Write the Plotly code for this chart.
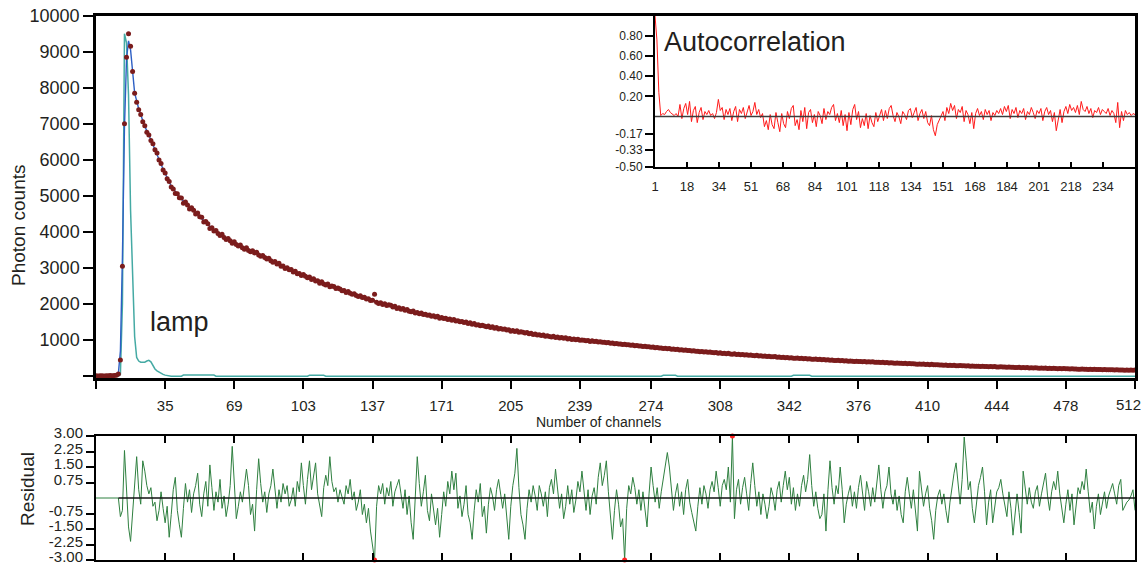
import plotly.graph_objects as go

W, H = 1146, 565

# ---------------- data ----------------
# photon counts per channel (channels 1..512)
counts = [
    12, 8, 15, 10, 6, 14, 9, 18, 11, 20,
    25, 60, 450, 3050, 7000, 8850, 9500, 9150, 8450, 7850,
    7600, 7390, 7260, 7060, 6950, 6770, 6690, 6540, 6450, 6280,
    6190, 6000, 5900, 5720, 5640, 5480, 5400, 5250, 5190, 5070,
    5060, 4950, 4940, 4800, 4830, 4750, 4640, 4670, 4600, 4500,
    4530, 4420, 4410, 4280, 4290, 4230, 4100, 4120, 4030, 4040,
    3960, 3900, 3940, 3850, 3790, 3820, 3760, 3690, 3730, 3650,
    3610, 3640, 3560, 3520, 3560, 3490, 3450, 3480, 3420, 3440,
    3360, 3330, 3350, 3290, 3250, 3270, 3200, 3160, 3180, 3110,
    3130, 3050, 3060, 2990, 3010, 2950, 2960, 2890, 2910, 2840,
    2850, 2790, 2820, 2770, 2730, 2750, 2680, 2700, 2640, 2650,
    2580, 2620, 2560, 2530, 2560, 2480, 2500, 2490, 2430, 2450,
    2420, 2370, 2380, 2320, 2350, 2300, 2270, 2290, 2240, 2210,
    2230, 2180, 2190, 2140, 2150, 2100, 2110, 2270, 2050, 2020,
    2040, 1990, 2010, 1960, 1980, 1970, 1920, 1940, 1880, 1900,
    1860, 1880, 1830, 1850, 1800, 1790, 1810, 1750, 1770, 1730,
    1750, 1710, 1720, 1690, 1700, 1660, 1680, 1640, 1660, 1610,
    1630, 1600, 1610, 1570, 1590, 1550, 1570, 1530, 1540, 1510,
    1520, 1490, 1500, 1460, 1480, 1440, 1460, 1420, 1430, 1400,
    1410, 1390, 1370, 1390, 1350, 1370, 1330, 1350, 1310, 1320,
    1300, 1310, 1280, 1290, 1250, 1270, 1240, 1260, 1220, 1230,
    1220, 1200, 1210, 1180, 1190, 1160, 1170, 1140, 1150, 1130,
    1140, 1110, 1120, 1100, 1090, 1110, 1070, 1090, 1060, 1070,
    1050, 1065, 1035, 1045, 1020, 1035, 1010, 1025, 995, 1005,
    1000, 980, 990, 965, 980, 960, 970, 950, 955, 940,
    945, 925, 935, 915, 920, 900, 910, 890, 895, 880,
    885, 870, 875, 855, 865, 845, 850, 835, 840, 825,
    830, 815, 820, 800, 810, 790, 795, 780, 785, 770,
    775, 760, 765, 750, 755, 740, 745, 730, 735, 720,
    725, 710, 715, 700, 705, 690, 695, 680, 685, 670,
    680, 662, 668, 655, 650, 660, 640, 648, 632, 640,
    625, 635, 618, 612, 622, 605, 612, 598, 604, 590,
    598, 582, 588, 574, 570, 578, 560, 568, 552, 558,
    545, 555, 540, 536, 545, 528, 535, 520, 528, 515,
    522, 508, 514, 500, 497, 505, 490, 497, 482, 490,
    478, 486, 470, 468, 476, 462, 468, 455, 462, 450,
    457, 444, 450, 438, 436, 442, 428, 435, 422, 430,
    418, 425, 412, 410, 418, 405, 411, 400, 407, 396,
    402, 392, 398, 387, 384, 390, 379, 385, 372, 378,
    368, 375, 364, 362, 368, 356, 362, 350, 356, 346,
    352, 342, 347, 337, 334, 340, 330, 336, 324, 330,
    321, 328, 316, 315, 320, 309, 314, 304, 309, 300,
    306, 297, 301, 293, 290, 296, 287, 292, 281, 287,
    279, 286, 275, 274, 279, 270, 275, 266, 271, 264,
    270, 262, 266, 258, 256, 261, 253, 258, 248, 253,
    245, 251, 241, 240, 245, 237, 241, 233, 238, 230,
    236, 228, 232, 225, 223, 228, 220, 225, 216, 221,
    214, 220, 211, 210, 214, 207, 211, 204, 208, 201,
    207, 200, 203, 196, 195, 199, 192, 196, 188, 193,
    188, 193, 185, 184, 188, 181, 185, 178, 182, 176,
    182, 175, 179, 172, 171, 175, 168, 172, 165, 170,
    166, 169,
]
channels = list(range(1, len(counts) + 1))

# fitted decay curve
fit_channels = [1, 11, 12, 13, 14, 15, 16, 17, 18, 19, 20, 22, 25, 28, 31, 34, 38,
                42, 46, 50, 55, 60, 70, 80, 90, 100, 120, 140, 160, 180, 200, 220,
                240, 260, 280, 300, 330, 360, 390, 420, 450, 480, 512]
fit_values = [0, 10, 80, 700, 3300, 6900, 8800, 9300, 9050, 8450, 7860, 7420, 6930,
              6560, 6160, 5740, 5270, 4980, 4740, 4540, 4260, 4010, 3660, 3410, 3120,
              2860, 2430, 2040, 1745, 1520, 1315, 1135, 1000, 885, 775, 675, 555, 455,
              375, 305, 250, 205, 166]

# instrument response (lamp)
lamp_channels = [1, 12, 13, 14, 15, 16, 17, 18, 19, 20, 21, 22, 23, 24, 25, 26, 27,
                 28, 29, 30, 31, 32, 33, 34, 35, 36, 37, 38, 43, 44, 59, 60, 105, 106,
                 113, 114, 279, 280, 286, 287, 343, 344, 352, 353, 512]
lamp_values = [0, 0, 50, 2000, 9500, 9250, 7800, 4600, 2850, 1100, 520, 420, 390, 380,
               390, 420, 440, 400, 300, 200, 150, 110, 80, 50, 30, 15, 5, 0, 0, 30, 30,
               0, 0, 25, 25, 0, 0, 25, 25, 0, 0, 25, 25, 0, 0]

# weighted residuals per channel (channels 1..512)
residuals = [
    0, 0, 0, 0, 0, 0, 0, 0, 0, 0,
    0, 0.0, -0.9, -0.6, 2.3, 0.6, -1.4, -2.1, -0.7, 0.5,
    2.0, 0.4, -0.3, 1.8, 1.3, 0.6, 0.2, 0.5, -0.4, -0.2,
    -1.1, -0.6, 0.3, -0.5, -1.2, -0.4, -1.9, -0.8, 0.4, 1.0,
    -0.6, -1.3, -1.9, -0.5, 0.7, -0.2, 0.4, -0.7, 0.2, 0.6,
    1.2, -0.3, -0.9, 0.2, 0.8, -0.4, 1.6, 0.5, -0.6, 0.3,
    -0.2, 0.9, -0.5, 0.1, -0.9, -0.3, 0.6, 2.5, 0.8, -1.0,
    -0.4, 0.3, -0.2, 0.5, 1.4, 0.6, -0.8, -0.3, -1.6, 0.4,
    1.9, 0.7, -0.2, 0.3, -0.7, 0.2, 0.6, 1.4, 0.3, -0.5,
    0.4, -0.2, 0.7, 0.2, 0.6, -0.4, -0.1, 0.5, -0.4, 0.8,
    0.3, 1.7, 0.6, -0.3, 0.9, 1.8, 0.4, 1.0, 1.7, 0.2,
    -0.4, -0.9, 0.5, 1.1, 0.6, 2.0, 0.8, 0.3, 0.5, -0.2,
    0.4, 0.1, -0.3, 0.6, 0.2, 0.9, -0.1, 0.3, -0.6, -0.2,
    0.4, -0.8, -0.3, -1.2, -0.5, -1.6, -2.2, -3.0, -0.4, 0.6,
    0.2, 0.7, -0.3, 0.5, 0.1, 0.8, -0.4, 0.3, 0.6, 0.9,
    0.2, -0.5, 0.4, -0.8, 0.1, -1.2, -2.0, -0.3, 2.0, 0.7,
    -0.4, 0.3, 1.1, -0.6, -1.1, 0.2, -0.7, -1.3, -0.5, -1.9,
    -0.8, 0.3, -0.4, 0.8, 0.2, 1.3, 0.4, 1.2, -0.5, 0.1,
    -0.9, -0.3, 0.6, -0.8, -1.2, -2.0, -0.6, 0.4, -0.2, 0.7,
    -0.9, -0.4, -1.7, -0.3, 0.5, 0.1, -0.6, 0.4, 0.9, 0.3,
    -0.5, 0.2, -1.1, -2.0, -0.4, 0.6, 1.2, 2.4, 0.5, -0.8,
    -1.3, -2.0, -0.5, 0.4, -0.2, 0.6, 0.1, -0.6, 0.6, 0.2,
    -0.4, 0.3, -0.9, 0.5, 0.9, 0.2, 1.4, 0.3, -0.5, 0.2,
    -1.0, -0.4, 0.6, -0.3, 0.4, -0.7, -0.1, 0.8, 0.3, 1.3,
    0.2, -0.6, 0.4, -0.8, 0.1, 0.5, -0.3, 1.0, 1.7, 0.6,
    1.1, 1.8, 0.3, -0.9, -2.0, -0.6, 0.4, -0.3, -1.4, -1.0,
    -3.0, -0.5, 0.6, 0.2, 1.0, 0.5, -0.3, 0.4, -0.6, 0.3,
    -0.7, -1.4, 0.2, 1.5, 0.6, -0.2, 0.5, -0.5, 0.3, 0.9,
    1.5, 2.2, 1.5, 0.4, -0.6, 0.2, 0.7, -0.4, 0.3, -0.8,
    0.4, 0.9, -0.2, -0.7, -1.1, -1.6, -0.4, 0.5, -0.3, 0.6,
    0.2, -0.5, 0.4, 0.8, 0.3, 1.3, 0.5, -0.4, 0.6, 0.9,
    0.4, 1.5, -0.2, 3.0, -1.0, 0.4, 0.9, -0.3, 0.5, 1.0,
    0.2, -0.6, 0.7, 1.7, 0.6, -0.4, 0.3, -0.8, 0.2, -0.3,
    -1.0, -0.4, 0.5, 0.1, -0.6, 0.4, 0.8, -0.2, 0.6, 1.3,
    0.4, 1.0, -0.3, 0.5, -0.6, 0.2, -0.4, 0.6, 1.1, 0.3,
    0.9, 2.1, 0.6, -0.4, 0.3, -0.5, -1.0, -0.8, 0.2, -1.6,
    0.4, 1.8, 0.5, -0.3, 0.6, 0.2, 1.5, 0.4, -1.2, -0.3,
    0.2, 0.6, -0.4, 0.3, -0.5, 0.5, 1.1, 0.2, -0.6, 0.8,
    0.3, -0.4, 0.5, -0.2, 0.7, 1.6, 0.4, -0.5, 0.3, 0.6,
    1.5, 0.2, -0.3, 0.4, -0.6, 0.1, -0.8, -1.2, 0.3, 1.0,
    0.2, -0.5, 0.4, -0.7, -1.6, 1.3, 0.3, -0.4, 0.2, 0.6,
    -0.5, -1.1, -2.0, -0.6, 0.1, 0.4, -0.3, 0.2, -0.6, -1.2,
    -0.2, 0.6, 1.2, 1.7, 0.5, -0.3, 0.9, 2.95, 1.8, 0.4,
    0.8, -0.5, -1.2, -0.4, 0.6, 1.0, 1.5, 0.3, -1.3, -0.2,
    0.4, -1.2, -0.3, 0.3, 0.5, 0.9, 0.2, -0.4, -0.9, 0.3,
    -0.5, -1.8, -0.6, 0.2, -0.7, -1.7, 1.3, 0.4, -0.3, 0.5,
    -0.2, -0.5, 0.3, 0.6, -0.4, 0.2, 0.7, 1.2, 0.1, -0.6,
    0.3, 0.8, 0.4, 1.3, 0.2, -0.5, -1.2, -0.3, 0.4, -0.6,
    0.2, -1.3, -0.4, 0.5, 0.2, 0.8, 0.4, 1.4, 0.3, -0.7,
    -0.2, -1.5, -0.4, 0.2, -0.8, -0.3, 0.3, -0.5, 0.1, 0.4,
    0.7, 0.2, -0.3, 0.6, 0.9, -0.6, -0.4, -0.2, -0.1, 0.1,
    0.4, -0.6,
]
res_channels = list(range(1, len(residuals) + 1))

# autocorrelation of the residuals (lags 1..251)
autocorr = [
    1.00, 0.76, 0.24, 0.01, 0.03, 0.02, 0.05, 0.07, 0.04, 0.02,
    0.01, 0.03, 0.00, 0.12, -0.02, 0.08, 0.13, 0.02, 0.15, -0.05,
    0.06, 0.10, -0.06, 0.04, 0.09, -0.03, 0.05, 0.02, 0.06, 0.01,
    0.03, -0.02, 0.04, 0.17, 0.06, 0.09, -0.03, 0.07, 0.02, 0.08,
    -0.04, 0.05, 0.10, -0.05, 0.07, 0.03, 0.09, -0.02, 0.06, 0.11,
    0.01, 0.05, 0.14, 0.02, 0.07, -0.01, 0.03, -0.10, -0.04, -0.13,
    0.02, -0.08, -0.12, 0.04, -0.06, -0.15, 0.03, -0.07, -0.11, 0.05,
    -0.02, 0.08, 0.11, -0.09, -0.03, -0.13, 0.06, -0.05, 0.09, -0.12,
    0.04, 0.07, -0.06, 0.02, -0.10, 0.05, 0.01, -0.07, 0.08, -0.03,
    0.05, 0.02, 0.09, 0.12, -0.04, 0.03, -0.06, 0.06, -0.09, 0.02,
    -0.14, 0.04, -0.08, 0.07, 0.12, -0.03, 0.05, -0.11, -0.02, -0.09,
    0.03, -0.12, 0.01, -0.06, -0.10, 0.04, -0.05, 0.02, 0.07, -0.04,
    0.06, -0.02, 0.08, 0.11, 0.01, -0.05, 0.04, 0.00, -0.07, 0.05,
    0.02, -0.03, 0.06, 0.08, -0.01, 0.04, 0.09, -0.04, 0.03, 0.07,
    -0.02, 0.05, -0.06, -0.09, 0.01, -0.13, -0.19, -0.08, -0.03, 0.02,
    0.05, -0.04, 0.09, 0.03, 0.13, 0.06, 0.11, -0.02, 0.07, 0.04,
    0.10, -0.05, 0.06, 0.02, -0.07, 0.04, -0.12, 0.03, 0.08, 0.01,
    0.05, -0.03, 0.07, 0.02, 0.06, -0.04, 0.04, 0.01, 0.06, 0.03,
    0.08, 0.02, 0.10, 0.05, 0.11, -0.02, 0.07, 0.03, 0.09, -0.01,
    0.06, 0.03, 0.08, -0.03, 0.05, 0.02, 0.09, 0.04, -0.02, 0.06,
    0.03, 0.08, -0.04, 0.05, 0.09, 0.02, 0.06, -0.05, 0.04, -0.14,
    -0.02, 0.07, -0.06, 0.05, 0.10, 0.03, 0.12, 0.06, 0.09, 0.04,
    0.11, 0.02, 0.15, 0.07, 0.05, 0.10, 0.03, 0.08, -0.01, 0.06,
    0.04, 0.09, 0.02, 0.07, 0.05, 0.03, 0.08, 0.01, 0.06, 0.03,
    -0.06, 0.14, -0.11, 0.05, -0.04, 0.06, 0.02, 0.04, 0.01, 0.03,
    0.02,
]
lags = list(range(1, len(autocorr) + 1))

main_xticks = [1, 35, 69, 103, 137, 171, 205, 239, 274, 308, 342, 376, 410, 444, 478, 512]
# first and last tick carry no axis label; the "512" label is placed separately so it
# stays inside the page at the right edge
main_xlabels = [""] + [str(v) for v in main_xticks[1:-1]] + [""]
main_yticks = [0, 1000, 2000, 3000, 4000, 5000, 6000, 7000, 8000, 9000, 10000]
main_ylabels = [""] + [str(v) for v in main_yticks[1:]]
res_yticks = [3.0, 2.25, 1.5, 0.75, -0.75, -1.5, -2.25, -3.0]
res_ylabels = ["3.00", "2.25", "1.50", "0.75", "-0.75", "-1.50", "-2.25", "-3.00"]
ac_yticks = [0.8, 0.6, 0.4, 0.2, -0.17, -0.33, -0.5]
ac_ylabels = ["0.80", "0.60", "0.40", "0.20", "-0.17", "-0.33", "-0.50"]
ac_xlabels = ["1", "18", "34", "51", "68", "84", "101", "118", "134", "151",
              "168", "184", "201", "218", "234"]
ac_xticks = [1 + k * 250 / 15 for k in range(len(ac_xlabels))]

# ---------------- layout helpers ----------------
def fx(x):
    return x / W


def fy(y):
    return 1 - y / H


FONT = "Liberation Sans, Arial, sans-serif"
INK = "#231f20"

fig = go.Figure()

# main decay panel
fig.add_trace(go.Scatter(x=lamp_channels, y=lamp_values, mode="lines",
                         line=dict(color="#45aaa4", width=1.5),
                         xaxis="x", yaxis="y", hoverinfo="skip"))
fig.add_trace(go.Scatter(x=fit_channels, y=fit_values, mode="lines",
                         line=dict(color="#2d5fc4", width=1.4),
                         xaxis="x", yaxis="y", hoverinfo="skip"))
fig.add_trace(go.Scatter(x=channels, y=counts, mode="markers",
                         marker=dict(color="#7b1c1c", size=5, line=dict(width=0)),
                         xaxis="x", yaxis="y", cliponaxis=False, hoverinfo="skip"))

# autocorrelation inset
fig.add_trace(go.Scatter(x=lags, y=autocorr, mode="lines",
                         line=dict(color="#ff1a1a", width=1),
                         xaxis="x2", yaxis="y2", hoverinfo="skip"))
fig.add_trace(go.Scatter(x=[lags[0], lags[-1]], y=[0, 0], mode="lines",
                         line=dict(color="#3c3c3c", width=1.5),
                         xaxis="x2", yaxis="y2", hoverinfo="skip"))

# residual panel
fig.add_trace(go.Scatter(x=res_channels, y=residuals, mode="lines",
                         line=dict(color="#2f8040", width=1),
                         xaxis="x3", yaxis="y3", hoverinfo="skip"))
fig.add_trace(go.Scatter(x=[12, 512], y=[0, 0], mode="lines",
                         line=dict(color="#111111", width=1.5),
                         xaxis="x3", yaxis="y3", hoverinfo="skip"))
clip_x = [c for c, r in zip(res_channels, residuals) if abs(r) >= 3]
clip_y = [r for r in residuals if abs(r) >= 3]
fig.add_trace(go.Scatter(x=clip_x, y=clip_y, mode="markers",
                         marker=dict(color="#ff2020", size=5),
                         xaxis="x3", yaxis="y3", cliponaxis=False, hoverinfo="skip"))

axis_common = dict(showgrid=False, zeroline=False, showline=True, linecolor="#000000",
                   tickcolor="#000000", automargin=False, ticklabeloverflow="allow",
                   tickfont=dict(family=FONT, color=INK))

fig.update_layout(
    width=W, height=H,
    margin=dict(l=0, r=0, t=0, b=0, autoexpand=False),
    paper_bgcolor="white", plot_bgcolor="white",
    showlegend=False, hovermode=False,
    font=dict(family=FONT, color=INK),
    xaxis=dict(axis_common, domain=[fx(96), fx(1135)], range=[1, 512],
               tickmode="array", tickvals=main_xticks, ticktext=main_xlabels,
               ticks="outside", ticklen=8, tickwidth=2, linewidth=2.5, mirror=True,
               tickfont=dict(family=FONT, color=INK, size=15), ticklabelstandoff=4,
               anchor="y"),
    yaxis=dict(axis_common, domain=[fy(378), fy(15.7)], range=[-50, 10000],
               tickmode="array", tickvals=main_yticks, ticktext=main_ylabels,
               ticks="outside", ticklen=10, tickwidth=2, linewidth=2.5, mirror=True,
               tickfont=dict(family=FONT, color=INK, size=18), anchor="x"),
    xaxis2=dict(axis_common, domain=[fx(655), fx(1135)], range=[1, 251],
                tickmode="array", tickvals=ac_xticks, ticktext=ac_xlabels,
                ticks="inside", ticklen=5, tickwidth=1.5, linewidth=2, mirror=True,
                tickfont=dict(family=FONT, color=INK, size=13), ticklabelstandoff=6,
                anchor="y2"),
    yaxis2=dict(axis_common, domain=[fy(167), fy(15.7)], range=[-0.5, 1.0],
                tickmode="array", tickvals=ac_yticks, ticktext=ac_ylabels,
                ticks="outside", ticklen=8, tickwidth=1.5, linewidth=2, mirror=True,
                tickfont=dict(family=FONT, color=INK, size=12), anchor="x2"),
    xaxis3=dict(axis_common, domain=[fx(96), fx(1135)], range=[1, 512],
                tickmode="array", tickvals=main_xticks[1:-1], showticklabels=False,
                ticks="inside", ticklen=7, tickwidth=2, linewidth=2, mirror="ticks",
                anchor="y3"),
    yaxis3=dict(axis_common, domain=[fy(560), fy(436)], range=[-3, 3],
                tickmode="array", tickvals=res_yticks, ticktext=res_ylabels,
                ticks="outside", ticklen=8, tickwidth=2, linewidth=2, mirror=True,
                tickfont=dict(family=FONT, color=INK, size=15), ticklabelshift=-3,
                anchor="x3"),
    annotations=[
        dict(text="512", x=fx(1143), y=fy(404), xref="paper", yref="paper",
             showarrow=False, font=dict(size=15, family=FONT, color=INK),
             xanchor="right", yanchor="middle"),
        dict(text="Number of channels", x=fx(598), y=fy(422), xref="paper", yref="paper",
             showarrow=False, font=dict(size=14, family=FONT, color=INK),
             xanchor="center", yanchor="middle"),
        dict(text="Photon counts", x=fx(18), y=fy(226), xref="paper", yref="paper",
             showarrow=False, textangle=-90, font=dict(size=19, family=FONT, color=INK),
             xanchor="center", yanchor="middle"),
        dict(text="Residual", x=fx(28), y=fy(489), xref="paper", yref="paper",
             showarrow=False, textangle=-90, font=dict(size=19, family=FONT, color=INK),
             xanchor="center", yanchor="middle"),
        dict(text="lamp", x=fx(148), y=fy(322), xref="paper", yref="paper",
             showarrow=False, font=dict(size=27, family=FONT, color=INK),
             xanchor="left", yanchor="middle"),
        dict(text="Autocorrelation", x=fx(662), y=fy(42), xref="paper", yref="paper",
             showarrow=False, font=dict(size=27, family=FONT, color=INK),
             xanchor="left", yanchor="middle"),
    ],
)

fig.write_html("out.html")
